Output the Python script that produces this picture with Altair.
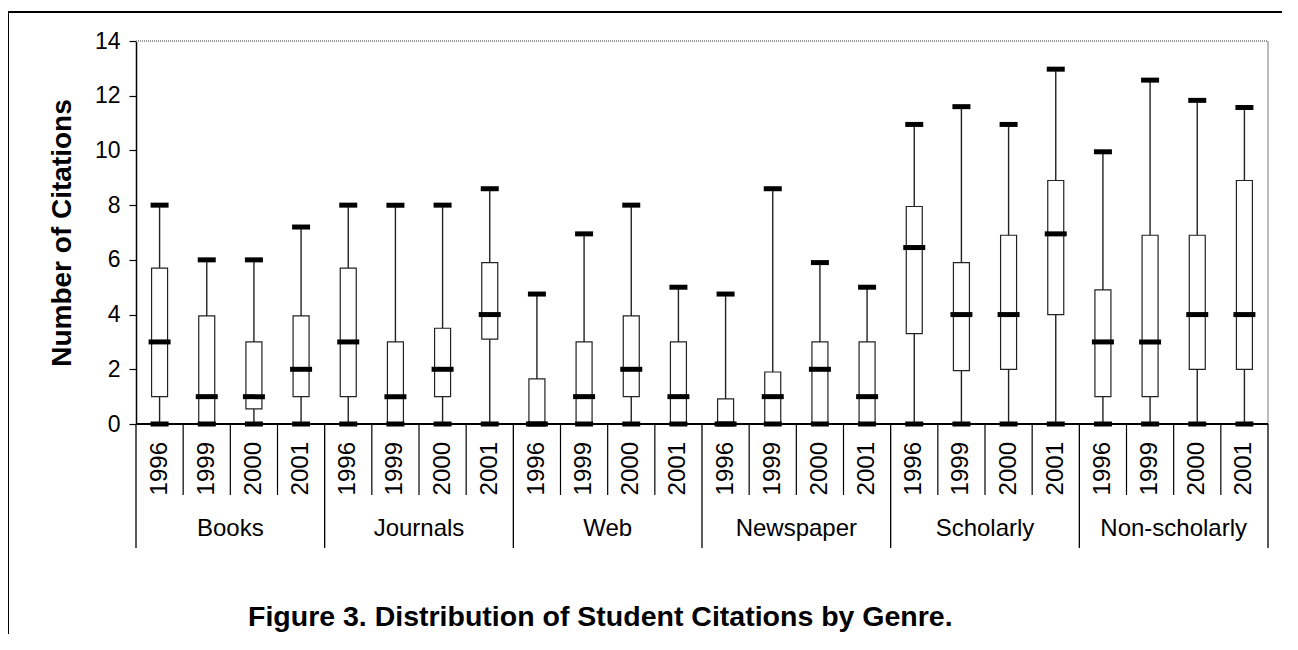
import altair as alt
import pandas as pd

genres = ["Books", "Journals", "Web", "Newspaper", "Scholarly", "Non-scholarly"]
years = ["1996", "1999", "2000", "2001"]

lows = [0, 0, 0, 0,  0, 0, 0, 0,  0, 0, 0, 0,  0, 0, 0, 0,  0, 0, 0, 0,  0, 0, 0, 0]
q1 = [1.0, 0.0, 0.55, 1.0,  1.0, 0.0, 1.0, 3.1,  0.0, 0.0, 1.0, 0.0,
      0.0, 0.0, 0.0, 0.0,  3.3, 1.95, 2.0, 4.0,  1.0, 1.0, 2.0, 2.0]
med = [3, 1, 1, 2,  3, 1, 2, 4,  0, 1, 2, 1,  0, 1, 2, 1,
       6.45, 4, 4, 6.95,  3, 3, 4, 4]
q3 = [5.7, 3.95, 3.0, 3.95,  5.7, 3.0, 3.5, 5.9,  1.65, 3.0, 3.95, 3.0,
      0.92, 1.9, 3.0, 3.0,  7.95, 5.9, 6.9, 8.9,  4.9, 6.9, 6.9, 8.9]
highs = [8, 6, 6, 7.2,  8, 8, 8, 8.6,  4.75, 6.95, 8, 5,  4.75, 8.6, 5.9, 5,
         10.95, 11.6, 10.95, 12.97,  9.95, 12.57, 11.83, 11.57]

caption = "Figure 3. Distribution of Student Citations by Genre."
y_title = "Number of Citations"

W, H = 1132, 383
FONT = "Liberation Sans"
n = len(genres) * len(years)

rows = []
for gi, g in enumerate(genres):
    for yi, yr in enumerate(years):
        i = gi * len(years) + yi
        rows.append({"genre": g, "year": yr, "pos": i + 0.5, "low": lows[i],
                     "q1": q1[i], "med": med[i], "q3": q3[i], "high": highs[i]})
df = pd.DataFrame(rows)

year_seps = pd.DataFrame({"b": [b for b in range(1, n) if b % len(years) != 0]})
group_seps = pd.DataFrame({"b": list(range(0, n + 1, len(years)))})
genre_df = pd.DataFrame({"genre": genres,
                         "pos": [gi * len(years) + len(years) / 2 for gi in range(len(genres))]})
cap_df = pd.DataFrame({"t": [caption]})

xscale = alt.Scale(domain=[0, n], nice=False, zero=False, padding=0)
yscale = alt.Scale(domain=[0, 14], nice=False, padding=0)

yaxis = alt.Axis(values=list(range(0, 15, 2)), tickSize=7, tickColor="black", tickWidth=1.2,
                 domainColor="black", domainWidth=1.5, labelFontSize=23, labelColor="black",
                 labelFont=FONT, labelPadding=9, title=y_title, titleFont=FONT,
                 titleFontSize=28, titleFontWeight="bold", titleColor="black",
                 titlePadding=18, grid=False)


def X(field):
    return alt.X(field, scale=xscale, axis=None)


def Y(field):
    return alt.Y(field, scale=yscale, axis=yaxis)


base = alt.Chart(df).encode(x=X("pos:Q"))

whisker = base.mark_rule(color="#222", strokeWidth=1.4).encode(
    y=Y("low:Q"), y2="high:Q")
box = base.mark_bar(size=16, fill="white", stroke="#222", strokeWidth=1.2).encode(
    y=Y("q1:Q"), y2="q3:Q")
median_t = base.mark_tick(orient="horizontal", size=22, thickness=5, color="black", opacity=1).encode(
    y=Y("med:Q"))
cap_hi = base.mark_tick(orient="horizontal", size=18, thickness=5, color="black", opacity=1).encode(
    y=Y("high:Q"))
cap_lo = base.mark_tick(orient="horizontal", size=18, thickness=5, color="black", opacity=1).encode(
    y=Y("low:Q"))

top_line = alt.Chart(df).mark_rule(color="#999", strokeDash=[1, 1], strokeWidth=1.5).encode(
    x=alt.value(0), x2=alt.value(W), y=alt.value(0))
right_line = alt.Chart(df).mark_rule(color="#bbb", strokeWidth=1).encode(
    x=alt.value(W), y=alt.value(0), y2=alt.value(H))
baseline = alt.Chart(df).mark_rule(color="black", strokeWidth=1.5).encode(
    x=alt.value(0), x2=alt.value(W), y=alt.value(H))

ysep = alt.Chart(year_seps).mark_rule(color="black", strokeWidth=1.2).encode(
    x=X("b:Q"), y=alt.value(H), y2=alt.value(H + 71))
gsep = alt.Chart(group_seps).mark_rule(color="black", strokeWidth=1.3).encode(
    x=X("b:Q"), y=alt.value(H), y2=alt.value(H + 124))

year_lbl = base.mark_text(angle=270, align="right", baseline="middle", fontSize=24,
                          font=FONT, color="black").encode(
    text="year:N", y=alt.value(H + 18))
genre_lbl = alt.Chart(genre_df).mark_text(align="center", baseline="middle", fontSize=24,
                                          font=FONT, color="black").encode(
    x=X("pos:Q"), text="genre:N", y=alt.value(H + 105))

cap_txt = alt.Chart(cap_df).mark_text(
    align="left", baseline="alphabetic", fontSize=28.5, fontWeight="bold", font=FONT,
    color="black").encode(text="t:N", x=alt.value(112), y=alt.value(H + 202))

frame_l = alt.Chart(cap_df).mark_rule(color="black", strokeWidth=2).encode(
    x=alt.value(-128), y=alt.value(-29), y2=alt.value(H + 300))
frame_t = alt.Chart(cap_df).mark_rule(color="black", strokeWidth=2).encode(
    x=alt.value(-128), x2=alt.value(W + 300), y=alt.value(-29))

chart = alt.layer(
    top_line, right_line, whisker, box, median_t, cap_hi, cap_lo, baseline,
    ysep, gsep, year_lbl, genre_lbl, cap_txt, frame_l, frame_t
).properties(
    width=W, height=H,
    padding={"left": 128, "top": 33, "right": 14, "bottom": 210},
    autosize=alt.AutoSizeParams(type="none"),
).configure_view(strokeWidth=0)

chart.save("out.html", embed_options={"renderer": "svg", "actions": False})
